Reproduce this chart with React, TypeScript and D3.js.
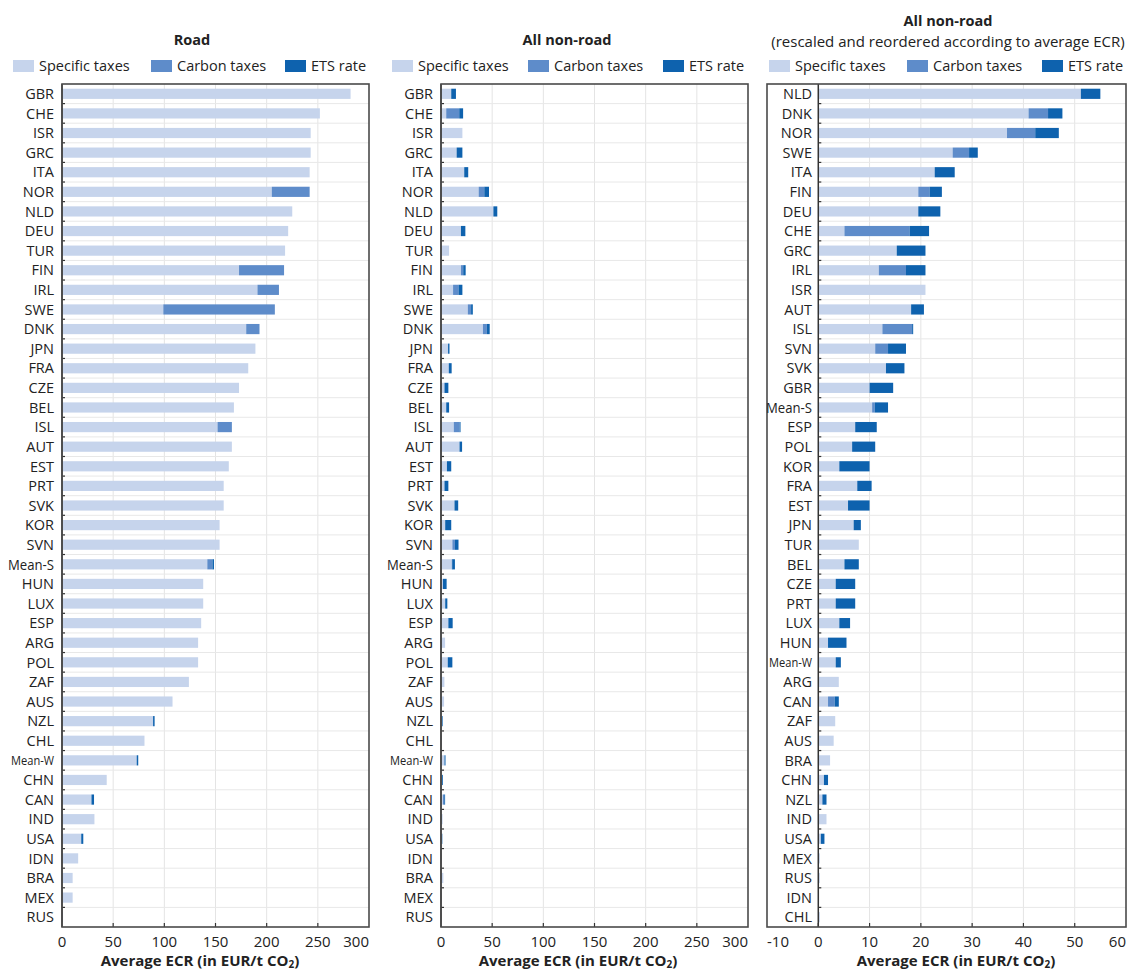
import { useEffect, useRef } from "react";
import * as d3 from "d3";

// Road panel, in the order of the chart
const roadCountries = [
  "GBR", "CHE", "ISR", "GRC", "ITA", "NOR", "NLD", "DEU", "TUR", "FIN", "IRL",
  "SWE", "DNK", "JPN", "FRA", "CZE", "BEL", "ISL", "AUT", "EST", "PRT", "SVK",
  "KOR", "SVN", "Mean-S", "HUN", "LUX", "ESP", "ARG", "POL", "ZAF", "AUS", "NZL",
  "CHL", "Mean-W", "CHN", "CAN", "IND", "USA", "IDN", "BRA", "MEX", "RUS",
];
const roadSpecific = [
  282, 252, 243, 243, 242, 205, 225, 221, 218, 173, 191,
  99, 180, 189, 182, 173, 168, 152, 166, 163, 158, 158,
  154, 154, 142, 138, 138, 136, 133, 133, 124, 108, 89,
  80.6, 73, 43.7, 28.8, 31.7, 18.8, 15.8, 10.4, 10.4, 1,
];
const roadCarbon = [
  0, 0, 0, 0, 0, 37, 0, 0, 0, 44, 21,
  109, 13, 0, 0, 0, 0, 14, 0, 0, 0, 0,
  0, 0, 5, 0, 0, 0, 0, 0, 0, 0, 0,
  0, 0, 0, 0, 0, 0, 0, 0, 0, 0,
];
const roadEts = [
  0, 0, 0, 0, 0, 0, 0, 0, 0, 0, 0,
  0, 0, 0, 0, 0, 0, 0, 0, 0, 0, 0,
  0, 0, 1.5, 0, 0, 0, 0, 0, 0, 0, 1.5,
  0, 1.5, 0, 2.5, 0, 2, 0, 0, 0, 0,
];

// Non-road values, in the order of the rescaled panel
const nonRoadCountries = [
  "NLD", "DNK", "NOR", "SWE", "ITA", "FIN", "DEU", "CHE", "GRC", "IRL", "ISR",
  "AUT", "ISL", "SVN", "SVK", "GBR", "Mean-S", "ESP", "POL", "KOR", "FRA", "EST",
  "JPN", "TUR", "BEL", "CZE", "PRT", "LUX", "HUN", "Mean-W", "ARG", "CAN", "ZAF",
  "AUS", "BRA", "CHN", "NZL", "IND", "USA", "MEX", "RUS", "IDN", "CHL",
];
const nonRoadSpecific = [
  51.2, 41.0, 36.8, 26.2, 22.7, 19.5, 19.5, 5.1, 15.3, 11.8, 20.9,
  18.1, 12.5, 11.1, 13.2, 10.0, 10.5, 7.2, 6.6, 4.1, 7.6, 5.8,
  6.9, 7.9, 5.1, 3.4, 3.4, 4.1, 1.9, 3.4, 4.0, 1.9, 3.3,
  3.0, 2.3, 1.1, 0.8, 1.6, 0.5, 0.3, 0.3, 0.1, 0.3,
];
const nonRoadCarbon = [
  0, 3.8, 5.5, 3.2, 0, 2.2, 0, 12.7, 0, 5.3, 0,
  0, 5.8, 2.5, 0, 0, 0.5, 0, 0, 0, 0, 0,
  0, 0, 0, 0, 0, 0, 0, 0, 0, 1.3, 0,
  0, 0, 0, 0, 0, 0, 0, 0, 0, 0,
];
const nonRoadEts = [
  3.8, 2.8, 4.6, 1.7, 3.9, 2.4, 4.3, 3.8, 5.6, 3.8, 0,
  2.5, 0.2, 3.5, 3.6, 4.6, 2.6, 4.2, 4.5, 5.9, 2.8, 4.2,
  1.4, 0, 2.8, 3.8, 3.8, 2.1, 3.6, 1.0, 0, 0.8, 0,
  0, 0, 0.8, 0.8, 0, 0.7, 0, 0, 0, 0,
];

const seriesKeys = ["specific", "carbon", "ets"];
const seriesLabels = ["Specific taxes", "Carbon taxes", "ETS rate"];
const seriesColors = ["#c6d4ec", "#5e8cca", "#0e62ae"];

const fullTicks = [0, 50, 100, 150, 200, 250, 300];
const rescaledTicks = [-10, 0, 10, 20, 30, 40, 50, 60];

const FONT = "'Open Sans', sans-serif";
const TEXT = "#222";

interface Row {
  country: string;
  specific: number;
  carbon: number;
  ets: number;
}

const roadRows: Row[] = roadCountries.map((c, i) => ({
  country: c,
  specific: roadSpecific[i],
  carbon: roadCarbon[i],
  ets: roadEts[i],
}));

const nonRoadRows: Row[] = nonRoadCountries.map((c, i) => ({
  country: c,
  specific: nonRoadSpecific[i],
  carbon: nonRoadCarbon[i],
  ets: nonRoadEts[i],
}));

// panel 2 keeps the road ordering
const nonRoadByCountry = new Map(nonRoadRows.map((r) => [r.country, r]));
const nonRoadInRoadOrder: Row[] = roadCountries.map(
  (c) => nonRoadByCountry.get(c) as Row
);

interface PanelConfig {
  title: string[];
  titleX: number;
  rows: Row[];
  domain: [number, number];
  ticks: number[];
  left: number;
  right: number;
  labelX: number;
  legendX: number[];
  axisTitleX: number;
}

const panels: PanelConfig[] = [
  {
    title: ["Road"],
    titleX: 192,
    rows: roadRows,
    domain: [0, 300],
    ticks: fullTicks,
    left: 62,
    right: 369,
    labelX: 54,
    legendX: [13, 151, 285],
    axisTitleX: 200,
  },
  {
    title: ["All non-road"],
    titleX: 567,
    rows: nonRoadInRoadOrder,
    domain: [0, 300],
    ticks: fullTicks,
    left: 441,
    right: 748,
    labelX: 433,
    legendX: [392, 528, 663],
    axisTitleX: 578,
  },
  {
    title: ["All non-road", "(rescaled and reordered according to average ECR)"],
    titleX: 948,
    rows: nonRoadRows,
    domain: [-10, 60],
    ticks: rescaledTicks,
    left: 767,
    right: 1126,
    labelX: 812,
    legendX: [769, 907, 1042],
    axisTitleX: 956,
  },
];

const TOP = 84;
const BOTTOM = 927;

export default function App() {
  const svgRef = useRef<SVGSVGElement>(null);

  useEffect(() => {
    if (!svgRef.current) return;
    const svg = d3.select(svgRef.current);
    svg.selectAll("*").remove();

    svg
      .append("rect")
      .attr("width", 1138)
      .attr("height", 972)
      .attr("fill", "#ffffff");

    panels.forEach((p) => {
      const g = svg.append("g");
      const x = d3.scaleLinear().domain(p.domain).range([p.left, p.right]);
      const y = d3
        .scaleBand()
        .domain(p.rows.map((r) => r.country))
        .range([TOP, BOTTOM])
        .paddingInner(0.48)
        .paddingOuter(0.24);
      const step = y.step();
      const zeroX = x(0);

      // titles
      p.title.forEach((t, i) => {
        g.append("text")
          .attr("x", p.titleX)
          .attr("y", p.title.length > 1 ? 26 + i * 21 : 45)
          .attr("text-anchor", "middle")
          .attr("font-family", FONT)
          .attr("font-size", i === 0 ? 14.5 : 15)
          .attr("font-weight", i === 0 ? 700 : 400)
          .attr("fill", TEXT)
          .text(t);
      });

      // legend
      seriesLabels.forEach((label, i) => {
        g.append("rect")
          .attr("x", p.legendX[i])
          .attr("y", 60)
          .attr("width", 21)
          .attr("height", 12)
          .attr("fill", seriesColors[i]);
        g.append("text")
          .attr("x", p.legendX[i] + 26)
          .attr("y", 71)
          .attr("font-family", FONT)
          .attr("font-size", 14.5)
          .attr("fill", TEXT)
          .text(label);
      });

      // vertical grid
      g.append("g")
        .selectAll("line")
        .data(p.ticks.filter((t) => t !== 0 && t !== p.domain[0] && t !== p.domain[1]))
        .join("line")
        .attr("x1", (d) => x(d))
        .attr("x2", (d) => x(d))
        .attr("y1", TOP)
        .attr("y2", BOTTOM)
        .attr("stroke", "#e4e4e4")
        .attr("stroke-width", 1);

      // horizontal row grid
      const boundaries = d3.range(1, p.rows.length).map((i) => TOP + i * step);
      g.append("g")
        .selectAll("line")
        .data(boundaries)
        .join("line")
        .attr("x1", zeroX)
        .attr("x2", p.right)
        .attr("y1", (d) => d)
        .attr("y2", (d) => d)
        .attr("stroke", "#e8e8e8")
        .attr("stroke-width", 1);

      // stacked bars
      const stacked = d3.stack<Row>().keys(seriesKeys)(p.rows);
      stacked.forEach((layer, li) => {
        g.append("g")
          .attr("fill", seriesColors[li])
          .selectAll("rect")
          .data(layer.filter((d) => d[1] - d[0] > 0))
          .join("rect")
          .attr("x", (d) => x(d[0]))
          .attr("width", (d) => Math.max(0.8, x(d[1]) - x(d[0])))
          .attr("y", (d) => y(d.data.country) as number)
          .attr("height", y.bandwidth());
      });

      // zero axis with row ticks
      g.append("line")
        .attr("x1", zeroX)
        .attr("x2", zeroX)
        .attr("y1", TOP)
        .attr("y2", BOTTOM)
        .attr("stroke", "#333")
        .attr("stroke-width", 1.5);
      g.append("g")
        .selectAll("line")
        .data(boundaries)
        .join("line")
        .attr("x1", zeroX)
        .attr("x2", zeroX + 3)
        .attr("y1", (d) => d)
        .attr("y2", (d) => d)
        .attr("stroke", "#333")
        .attr("stroke-width", 1.2);

      // bottom ticks
      g.append("g")
        .selectAll("line")
        .data(p.ticks.filter((t) => t !== p.domain[0] && t !== p.domain[1]))
        .join("line")
        .attr("x1", (d) => x(d))
        .attr("x2", (d) => x(d))
        .attr("y1", BOTTOM)
        .attr("y2", BOTTOM - 4)
        .attr("stroke", "#333")
        .attr("stroke-width", 1.2);

      // frame
      g.append("rect")
        .attr("x", p.left)
        .attr("y", TOP)
        .attr("width", p.right - p.left)
        .attr("height", BOTTOM - TOP)
        .attr("fill", "none")
        .attr("stroke", "#4a4a4a")
        .attr("stroke-width", 1.6);

      // category labels
      g.append("g")
        .selectAll("text")
        .data(p.rows)
        .join("text")
        .attr("x", p.labelX)
        .attr("y", (d) => (y(d.country) as number) + y.bandwidth() / 2)
        .attr("dy", "0.36em")
        .attr("text-anchor", "end")
        .attr("font-family", FONT)
        .attr("font-size", (d) => (d.country === "Mean-W" ? 12.5 : 14.5))
        .attr("fill", TEXT)
        .each(function (d) {
          if (d.country.startsWith("Mean")) {
            d3.select(this)
              .attr("textLength", d.country === "Mean-W" ? 43 : 46)
              .attr("lengthAdjust", "spacingAndGlyphs");
          }
        })
        .text((d) => d.country);

      // tick labels
      g.append("g")
        .selectAll("text")
        .data(p.ticks)
        .join("text")
        .attr("x", (d) => x(d))
        .attr("y", 947)
        .attr("text-anchor", (d) =>
          d === p.domain[1] ? "end" : d === p.domain[0] && d !== 0 ? "start" : "middle"
        )
        .attr("font-family", FONT)
        .attr("font-size", 15)
        .attr("fill", TEXT)
        .text((d) => `${d}`);

      // axis title
      const at = g
        .append("text")
        .attr("x", p.axisTitleX)
        .attr("y", 966)
        .attr("text-anchor", "middle")
        .attr("font-family", FONT)
        .attr("font-size", 15)
        .attr("font-weight", 700)
        .attr("fill", TEXT);
      at.append("tspan").text("Average ECR (in EUR/t CO");
      at.append("tspan").attr("font-size", 10).attr("dy", 2).text("2");
      at.append("tspan").attr("dy", -2).text(")");
    });
  }, []);

  return (
    <svg
      ref={svgRef}
      width={1138}
      height={972}
      style={{ position: "absolute", left: 0, top: 0, display: "block" }}
    />
  );
}
